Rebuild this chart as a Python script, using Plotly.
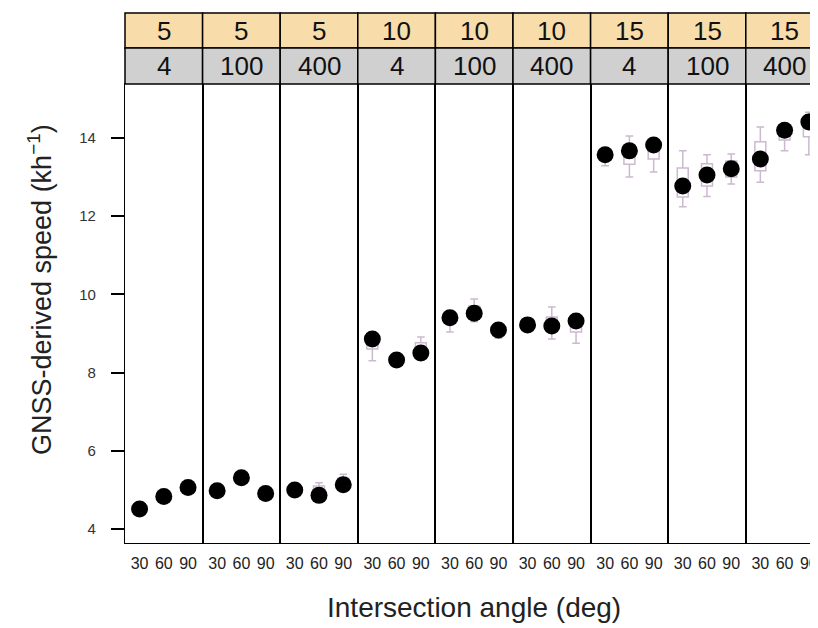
import plotly.graph_objects as go
from plotly.subplots import make_subplots

# ---- data ----
angles = ["30", "60", "90"]
height_labels = ["5", "5", "5", "10", "10", "10", "15", "15", "15"]
group_labels = ["4", "100", "400", "4", "100", "400", "4", "100", "400"]

mean_speed = [
    [4.51, 4.83, 5.06],
    [4.98, 5.31, 4.91],
    [5.00, 4.86, 5.13],
    [8.86, 8.32, 8.50],
    [9.40, 9.52, 9.09],
    [9.22, 9.19, 9.32],
    [13.57, 13.67, 13.82],
    [12.77, 13.05, 13.21],
    [13.46, 14.20, 14.41],
]
box_low = [
    [4.45, 4.78, 4.98], [4.90, 5.22, 4.85], [4.82, 4.78, 5.02],
    [8.30, 8.24, 8.32], [9.04, 9.30, 8.88], [9.12, 8.86, 8.75],
    [13.29, 13.00, 13.13], [12.24, 12.50, 12.82], [12.87, 13.67, 13.57],
]
box_q1 = [
    [4.48, 4.81, 5.02], [4.94, 5.26, 4.89], [4.92, 4.82, 5.06],
    [8.60, 8.28, 8.42], [9.27, 9.42, 8.99], [9.17, 9.09, 9.04],
    [13.45, 13.33, 13.46], [12.49, 12.77, 13.00], [13.16, 13.95, 14.03],
]
box_median = [
    [4.51, 4.84, 5.05], [4.97, 5.30, 4.92], [5.00, 4.87, 5.13],
    [8.86, 8.32, 8.50], [9.40, 9.52, 9.09], [9.22, 9.19, 9.32],
    [13.57, 13.67, 13.80], [12.77, 13.05, 13.21], [13.46, 14.20, 14.41],
]
box_q3 = [
    [4.55, 4.87, 5.08], [5.01, 5.34, 4.95], [5.06, 5.10, 5.30],
    [8.92, 8.37, 8.76], [9.46, 9.70, 9.16], [9.27, 9.42, 9.36],
    [13.64, 13.82, 13.85], [13.23, 13.34, 13.41], [13.90, 14.25, 14.46],
]
box_high = [
    [4.58, 4.90, 5.12], [5.05, 5.38, 4.99], [5.10, 5.18, 5.40],
    [8.98, 8.41, 8.91], [9.52, 9.88, 9.22], [9.32, 9.68, 9.42],
    [13.70, 14.05, 13.95], [13.67, 13.57, 13.59], [14.28, 14.33, 14.66],
]
y_tick_values = [4, 6, 8, 10, 12, 14]

# ---- layout geometry (page body adds an 8px offset) ----
OFF = 8
W, H = 818 - OFF, 628 - OFF
ML, MT = 125 - OFF, 84 - OFF
PLOT_BOTTOM_REF = 543
MB = H - (PLOT_BOTTOM_REF - OFF)
plot_w = W - ML
plot_h = H - MT - MB
panel_px = 77.6
y_range = [3.642, 15.38]

n = len(height_labels)
fig = make_subplots(rows=1, cols=n, horizontal_spacing=0)

box_color = "#cbb9cf"
for i in range(n):
    col = i + 1
    fig.add_trace(go.Box(
        x=angles, q1=box_q1[i], median=box_median[i], q3=box_q3[i],
        lowerfence=box_low[i], upperfence=box_high[i],
        fillcolor="rgba(255,255,255,0)", line=dict(color=box_color, width=1.5),
        width=0.45, whiskerwidth=0.7, boxpoints=False, showlegend=False,
        hoverinfo="skip"), row=1, col=col)
    fig.add_trace(go.Scatter(
        x=angles, y=mean_speed[i], mode="markers",
        marker=dict(color="black", size=17), showlegend=False), row=1, col=col)

font_fam = "Arial"
shapes = []
annotations = []


def ypaper(px_ref):
    return (PLOT_BOTTOM_REF - px_ref) / plot_h


def xpaper(px_ref):
    return (px_ref - 125) / plot_w


for i in range(n):
    x0 = i * panel_px / plot_w
    x1 = min((i + 1) * panel_px / plot_w, 1.0)
    last = (i == n - 1)
    span = 3.2 if not last else (plot_w - 8 * panel_px) / (panel_px / 3.2)
    fig.update_xaxes(
        domain=[x0, x1], type="category", categoryorder="array",
        categoryarray=angles, range=[-0.6, -0.6 + span],
        showline=True, mirror=True, linecolor="black", linewidth=1.3,
        ticks="", showgrid=False, zeroline=False,
        tickfont=dict(size=16, color="#222222", family=font_fam),
        ticklabelstandoff=6, row=1, col=i + 1)
    yax = dict(range=y_range, showline=True, mirror=(not last),
               linecolor="black", linewidth=1.3, showgrid=False, zeroline=False)
    if i == 0:
        yax.update(ticks="outside", ticklen=13, tickwidth=1.5, tickcolor="black",
                   tickmode="array", tickvals=y_tick_values,
                   tickfont=dict(size=15, color="#333333", family=font_fam),
                   ticklabelstandoff=12, showticklabels=True)
    else:
        yax.update(showticklabels=False, ticks="")
    fig.update_yaxes(row=1, col=i + 1, **yax)

    # strip headers
    for (top, bot, fill, label) in [(13, 48, "#f8dcaa", height_labels[i]),
                                    (48, 84, "#d0d0d0", group_labels[i])]:
        shapes.append(dict(type="rect", xref="paper", yref="paper",
                           x0=x0, x1=(i + 1) * panel_px / plot_w,
                           y0=ypaper(bot), y1=ypaper(top),
                           fillcolor=fill, line=dict(color="black", width=1.5),
                           layer="above"))
        annotations.append(dict(xref="paper", yref="paper",
                                x=(i + 0.5) * panel_px / plot_w,
                                y=ypaper((top + bot) / 2), text=label,
                                showarrow=False, xanchor="center", yanchor="middle",
                                font=dict(size=26, color="#111111", family=font_fam)))

annotations.append(dict(xref="paper", yref="paper", x=xpaper(40),
                        y=ypaper(290), text="GNSS-derived speed (kh<sup>−1</sup>)",
                        textangle=-90, showarrow=False, xanchor="center",
                        yanchor="middle",
                        font=dict(size=27, color="#222222", family=font_fam)))
annotations.append(dict(xref="paper", yref="paper", x=xpaper(474),
                        y=ypaper(607), text="Intersection angle (deg)",
                        showarrow=False, xanchor="center", yanchor="middle",
                        font=dict(size=28, color="#222222", family=font_fam)))

fig.update_layout(
    width=W, height=H,
    margin=dict(l=ML, r=0, t=MT, b=MB),
    paper_bgcolor="white", plot_bgcolor="white",
    shapes=shapes, annotations=annotations,
    font=dict(family=font_fam),
    showlegend=False,
)

fig.write_html("out.html")
